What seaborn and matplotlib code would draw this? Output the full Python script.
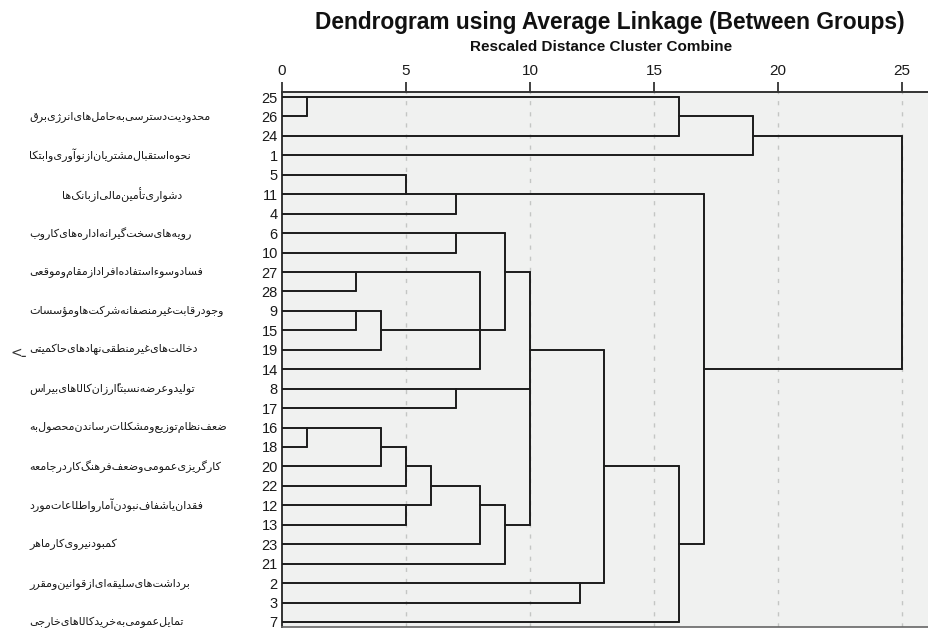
import matplotlib

matplotlib.use("Agg")

import matplotlib.pyplot as plt
import matplotlib.transforms as mtransforms
import pandas as pd
import seaborn as sns

sns.set_theme(style="white")
plt.rcParams["font.family"] = ["Liberation Sans", "DejaVu Sans"]

TITLE = "Dendrogram using Average Linkage (Between Groups)"
SUBTITLE = "Rescaled Distance Cluster Combine"

# leaf order, top to bottom
LEAF_IDS = [25, 26, 24, 1, 5, 11, 4, 6, 10, 27, 28, 9, 15, 19, 14,
            8, 17, 16, 18, 20, 22, 12, 13, 23, 21, 2, 3, 7]

# (cluster, members, rescaled distance, leaf whose row carries the cluster line)
MERGES = [
    ("c1", [25, 26], 1, 25),
    ("c2", ["c1", 24], 16, 26),
    ("c3", ["c2", 1], 19, 24),
    ("c4", [5, 11], 5, 11),
    ("c5", ["c4", 4], 7, 11),
    ("c6", [6, 10], 7, 6),
    ("c7", [27, 28], 3, 27),
    ("c8", [9, 15], 3, 9),
    ("c9", ["c8", 19], 4, 15),
    ("c10", ["c7", "c9", 14], 8, 15),
    ("c11", ["c6", "c10"], 9, 27),
    ("c12", [8, 17], 7, 8),
    ("c13", [16, 18], 1, 16),
    ("c14", ["c13", 20], 4, 18),
    ("c15", ["c14", 22], 5, 20),
    ("c16", [12, 13], 5, 12),
    ("c17", ["c15", "c16"], 6, 22),
    ("c18", ["c17", 23], 8, 12),
    ("c19", ["c18", 21], 9, 13),
    ("c20", ["c11", "c12", "c19"], 10, 19),
    ("c21", [2, 3], 12, 2),
    ("c22", ["c20", "c21"], 13, 20),
    ("c23", ["c22", 7], 16, 23),
    ("c24", ["c5", "c23"], 17, 14),
    ("c25", ["c3", "c24"], 25, None),
]

X_TICKS = [0, 5, 10, 15, 20, 25]

FA_LABELS = [
    "محدودیت دسترسی به حامل‌های انرژی برق",
    "نحوه استقبال مشتریان از نوآوری و ابتکا",
    "دشواری تأمین مالی از بانک‌ها",
    "رویه‌های سخت‌گیرانه اداره‌های کار و ب",
    "فساد و سوء استفاده افراد از مقام و موقعی",
    "وجود رقابت غیرمنصفانه شرکت‌ها و مؤسسات",
    "دخالت‌های غیرمنطقی نهادهای حاکمیتی",
    "تولید و عرضه نسبتاً ارزان کالاهای بیراس",
    "ضعف نظام توزیع و مشکلات رساندن محصول به",
    "کارگریزی عمومی و ضعف فرهنگ کار در جامعه",
    "فقدان یا شفاف نبودن آمار و اطلاعات مورد",
    "کمبود نیروی کار ماهر",
    "برداشت‌های سلیقه‌ای از قوانین و مقرر",
    "تمایل عمومی به خرید کالاهای خارجی",
]

# arabic letter -> (first presentation form, number of forms)
JOIN = {
    "ء": (0xFE80, 1), "آ": (0xFE81, 2), "أ": (0xFE83, 2), "ؤ": (0xFE85, 2),
    "إ": (0xFE87, 2), "ئ": (0xFE89, 4), "ا": (0xFE8D, 2), "ب": (0xFE8F, 4),
    "ة": (0xFE93, 2), "ت": (0xFE95, 4), "ث": (0xFE99, 4), "ج": (0xFE9D, 4),
    "ح": (0xFEA1, 4), "خ": (0xFEA5, 4), "د": (0xFEA9, 2), "ذ": (0xFEAB, 2),
    "ر": (0xFEAD, 2), "ز": (0xFEAF, 2), "س": (0xFEB1, 4), "ش": (0xFEB5, 4),
    "ص": (0xFEB9, 4), "ض": (0xFEBD, 4), "ط": (0xFEC1, 4), "ظ": (0xFEC5, 4),
    "ع": (0xFEC9, 4), "غ": (0xFECD, 4), "ف": (0xFED1, 4), "ق": (0xFED5, 4),
    "ك": (0xFED9, 4), "ل": (0xFEDD, 4), "م": (0xFEE1, 4), "ن": (0xFEE5, 4),
    "ه": (0xFEE9, 4), "و": (0xFEED, 2), "ي": (0xFEF1, 4), "پ": (0xFB56, 4),
    "چ": (0xFB7A, 4), "ژ": (0xFB8A, 2), "ک": (0xFB8E, 4), "گ": (0xFB92, 4),
    "ی": (0xFBFC, 4),
}
MARKS = {"\u064b", "\u064c", "\u064d", "\u064e", "\u064f", "\u0650", "\u0651", "\u0652"}


def shape(text):
    chars = list(text)
    out = []
    for i, ch in enumerate(chars):
        if ch == "\u200c" or ch == " ":
            continue
        if ch not in JOIN:
            out.append(ch)
            continue
        j = i - 1
        while j >= 0 and chars[j] in MARKS:
            j -= 1
        k = i + 1
        while k < len(chars) and chars[k] in MARKS:
            k += 1
        start, n = JOIN[ch]
        prev_joins = j >= 0 and chars[j] in JOIN and JOIN[chars[j]][1] == 4 and n >= 2
        next_joins = k < len(chars) and chars[k] in JOIN and JOIN[chars[k]][1] >= 2 and n == 4
        if n == 1:
            form = start
        elif prev_joins and next_joins:
            form = start + 3
        elif prev_joins:
            form = start + 1
        elif next_joins:
            form = start + 2
        else:
            form = start
        out.append(chr(form))
    # the source chart lays the shaped glyphs out left to right
    return "".join(out)[::-1]


row_of = {leaf: i for i, leaf in enumerate(LEAF_IDS)}
anchor = {leaf: (row_of[leaf], 0) for leaf in LEAF_IDS}
records = []
seg = 0
for name, members, dist, carrier in MERGES:
    rows = []
    for m in members:
        r, x0 = anchor[m]
        records += [{"seg": seg, "x": x0, "y": r}, {"seg": seg, "x": dist, "y": r}]
        seg += 1
        rows.append(r)
    records += [{"seg": seg, "x": dist, "y": min(rows)}, {"seg": seg, "x": dist, "y": max(rows)}]
    seg += 1
    if carrier is not None:
        anchor[name] = (row_of[carrier], dist)
segments = pd.DataFrame(records)

W, H = 929, 632
fig = plt.figure(figsize=(W / 100, H / 100), dpi=100)
left_px, top_px, bottom_px = 282, 92, 627
ax = fig.add_axes([left_px / W, 1 - bottom_px / H, (W - left_px) / W, (bottom_px - top_px) / H])
ax.set_facecolor("#f0f1f0")

row_h = 19.44
unit = 24.8
for t in X_TICKS[1:]:
    ax.axvline(t, color="#c4c6c4", lw=1.0, ls=(0, (3, 5)), zorder=0)

sns.lineplot(data=segments, x="x", y="y", units="seg", estimator=None, sort=False,
             color="#1c1c1c", lw=1.4, ax=ax, zorder=3)

ax.set_xlim(0, (W - left_px) / unit)
ax.set_ylim(len(LEAF_IDS) - 1 + 5 / row_h, -5 / row_h)
ax.set_xlabel("")
ax.set_ylabel("")

ax.xaxis.tick_top()
ax.set_xticks(X_TICKS)
ax.set_xticklabels([str(t) for t in X_TICKS])
ax.tick_params(axis="x", direction="out", length=7, width=1.3, pad=3,
               labelsize=11, color="#333333", labelcolor="#1a1a1a")
ax.set_yticks(range(len(LEAF_IDS)))
ax.set_yticklabels([str(v) for v in LEAF_IDS])
ax.tick_params(axis="y", length=0, pad=3, labelsize=10.5, labelcolor="#1a1a1a")

for side in ["top", "left"]:
    ax.spines[side].set_color("#333333")
    ax.spines[side].set_linewidth(1.4)
ax.spines["bottom"].set_color("#666666")
ax.spines["bottom"].set_linewidth(1.2)
ax.spines["right"].set_visible(False)

fig.text(610 / W, 1 - 22 / H, TITLE, ha="center", va="center",
         fontsize=16.4, fontweight="bold", color="#111111")
fig.text(601 / W, 1 - 47 / H, SUBTITLE, ha="center", va="center",
         fontsize=11, fontweight="bold", color="#111111")

trans = mtransforms.blended_transform_factory(fig.transFigure, ax.transData)
indent = {2: 33}
for i, label in enumerate(FA_LABELS):
    ax.text((29 + indent.get(i, 0)) / W, 2 * i + 1, shape(label), transform=trans,
            ha="left", va="center", fontsize=8, family=["DejaVu Sans"],
            color="#1a1a1a", clip_on=False)
ax.text(10 / W, 13.15, "<ـ", transform=trans, ha="left", va="center",
        fontsize=10, family=["DejaVu Sans"], color="#333333", clip_on=False)

fig.savefig("out.png", dpi=100)
